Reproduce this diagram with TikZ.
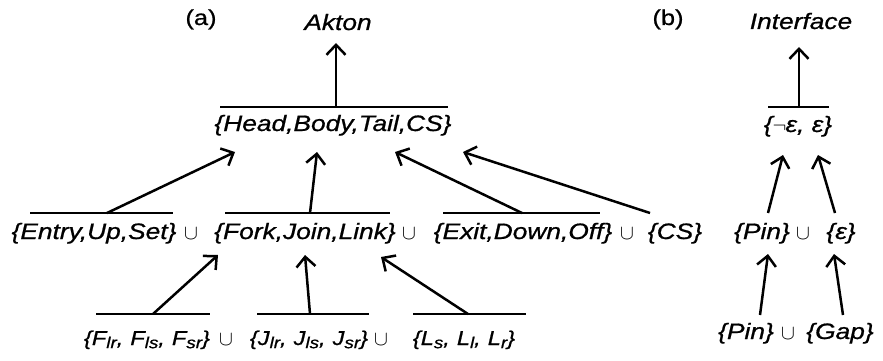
\documentclass[tikz,border=0pt]{standalone}
\usepackage{fontspec}
\setmainfont{Liberation Sans}[FakeStretch=1.18,FakeBold=0.8]
\usetikzlibrary{arrows.meta}
\tikzset{
  txt/.style={inner sep=0pt, anchor=base, font=\fontsize{22.3}{26}\selectfont\itshape},
  smalltxt/.style={inner sep=0pt, anchor=base, font=\fontsize{20}{23}\selectfont\itshape},
  uni/.style={inner sep=0pt, anchor=base, font=\fontsize{20.5}{24}\selectfont},
  plain/.style={inner sep=0pt, anchor=base, font=\fontsize{21.5}{24}\selectfont},
  bar/.style={line width=2.5pt},
  arr/.style={line width=2.5pt, -{Straight Barb[length=10pt,width=19pt]}},
}
\newcommand\sbx[1]{\raisebox{-0.3ex}{\fontsize{16}{16}\selectfont #1}}
\newcommand\gp{\hspace{7pt}}
\begin{document}
\begin{tikzpicture}[x=1pt,y=-1pt]
\useasboundingbox (0,0) rectangle (883,361);
% ---------- (a) ----------
\node[plain] (la) at (201,25) {(a)};
\node[txt] (akton) at (338,30) {Akton};
\node[txt] (head) at (333,131) {\{Head,Body,Tail,CS\}};
\coordinate (hb1) at (220,107); \coordinate (hb2) at (448,107);
\coordinate (hj) at (336,107); \coordinate (ak) at (336,43);
\draw[bar] (hb1) -- (hb2);
\draw[arr] (hj) -- (ak);
% row 2
\node[txt] (entry) at (94,239) {\{Entry,Up,Set\}};
\node[uni] (u1) at (191,239) {$\cup$};
\node[txt] (fork) at (305,239) {\{Fork,Join,Link\}};
\node[uni] (u2) at (409,239) {$\cup$};
\node[txt] (exit) at (523,239) {\{Exit,Down,Off\}};
\node[uni] (u3) at (627,239) {$\cup$};
\node[txt] (cs) at (675,239) {\{CS\}};
\coordinate (eb1) at (30,213); \coordinate (eb2) at (173,213);
\coordinate (fb1) at (225,213); \coordinate (fb2) at (390,213);
\coordinate (xb1) at (443,213); \coordinate (xb2) at (600,213);
\draw[bar] (eb1) -- (eb2);
\draw[bar] (fb1) -- (fb2);
\draw[bar] (xb1) -- (xb2);
\coordinate (ej) at (107,213); \coordinate (h1) at (235,152);
\coordinate (fj) at (310,213); \coordinate (h2) at (317,152);
\coordinate (xj) at (522,213); \coordinate (h3) at (395,152);
\coordinate (cj) at (650,213); \coordinate (h4) at (463,152);
\draw[arr] (ej) -- (h1);
\draw[arr] (fj) -- (h2);
\draw[arr] (xj) -- (h3);
\draw[arr] (cj) -- (h4);
% row 3
\node[smalltxt] (fset) at (147,345) {\{F\sbx{lr},\gp F\sbx{ls},\gp F\sbx{sr}\}};
\node[uni] (u4) at (226,345) {$\cup$};
\node[smalltxt] (jset) at (309,345) {\{J\sbx{lr},\gp J\sbx{ls},\gp J\sbx{sr}\}};
\node[uni] (u5) at (381,345) {$\cup$};
\node[smalltxt] (lset) at (464,345) {\{L\sbx{s},\gp L\sbx{l},\gp L\sbx{r}\}};
\coordinate (fa1) at (96,314); \coordinate (fa2) at (210,314);
\coordinate (ja1) at (257,314); \coordinate (ja2) at (369,314);
\coordinate (la1) at (413,314); \coordinate (la2) at (526,314);
\draw[bar] (fa1) -- (fa2);
\draw[bar] (ja1) -- (ja2);
\draw[bar] (la1) -- (la2);
\coordinate (fj3) at (153,314); \coordinate (k1) at (218,255);
\coordinate (jj3) at (310,314); \coordinate (k2) at (305,255);
\coordinate (lj3) at (468,314); \coordinate (k3) at (381,257);
\draw[arr] (fj3) -- (k1);
\draw[arr] (jj3) -- (k2);
\draw[arr] (lj3) -- (k3);
% ---------- (b) ----------
\node[plain] (lb) at (668,25) {(b)};
\node[txt] (iface) at (801,29) {Interface};
\node[txt] (eps) at (798,132) {\{$\neg$\kern-1pt ε, ε\}};
\coordinate (ib1) at (768,107); \coordinate (ib2) at (829,107);
\coordinate (ij) at (799,107); \coordinate (it) at (799,47);
\draw[bar] (ib1) -- (ib2);
\draw[arr] (ij) -- (it);
\node[txt] (pin1) at (762,239) {\{Pin\}};
\node[uni] (u6) at (803,239) {$\cup$};
\node[txt] (e1) at (841,239) {\{ε\}};
\coordinate (pj1) at (768,213); \coordinate (t1) at (783,155);
\coordinate (ej1) at (835,213); \coordinate (t2) at (818,155);
\draw[arr] (pj1) -- (t1);
\draw[arr] (ej1) -- (t2);
\node[txt] (pin2) at (746,339) {\{Pin\}};
\node[uni] (u7) at (788,339) {$\cup$};
\node[txt] (gap) at (840,339) {\{Gap\}};
\coordinate (pj2) at (760,315); \coordinate (t3) at (768,254);
\coordinate (gj2) at (843,315); \coordinate (t4) at (834,254);
\draw[arr] (pj2) -- (t3);
\draw[arr] (gj2) -- (t4);
\end{tikzpicture}
\end{document}
